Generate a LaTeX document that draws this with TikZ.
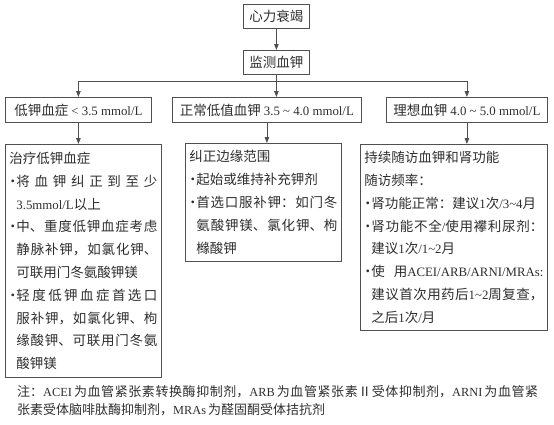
\documentclass[tikz,border=0pt]{standalone}
\usepackage{fontspec}
\setmainfont{Noto Sans CJK SC}
\newfontfamily\lat{Liberation Serif}[Scale=0.95]
\usetikzlibrary{arrows.meta}
\XeTeXlinebreaklocale "zh"
\XeTeXlinebreakskip=0pt plus 2pt
\tolerance=10000
\hbadness=10000
\hyphenpenalty=10000
\setlength\parindent{0pt}
\definecolor{linec}{HTML}{505050}
\definecolor{textc}{HTML}{2E2E2E}
\newcommand\lt[1]{{\lat #1}}
\newcommand\bul{\makebox[7pt][c]{·}}
\newcommand\bp{\par\hangindent=7pt\hangafter=1\bul}
\begin{document}
\begin{tikzpicture}[x=1pt,y=-1pt,
  box/.style={draw=linec, line width=0.8pt, text=textc, inner sep=0pt,
    font=\fontsize{13.5}{22.8}\selectfont},
  head/.style={box, minimum height=25pt, anchor=north west},
  panel/.style={box, anchor=north west, align=justify, inner xsep=4pt, inner ysep=0pt},
  arr/.style={draw=linec, line width=0.8pt, -{Triangle[length=6pt,width=4.5pt]}},
  ln/.style={draw=linec, line width=0.8pt}]
\useasboundingbox (0,0) rectangle (554,424);
\node[head, minimum width=66pt, minimum height=24pt] (hf) at (243,4) {心力衰竭};
\node[head, minimum width=66pt, minimum height=24pt] (mon) at (243,50) {监测血钾};
\node[head, minimum width=146pt] (low) at (5,97) {低钾血症 \lt{< 3.5 mmol/L}};
\node[head, minimum width=189pt] (mid) at (172,97) {正常低值血钾 \lt{3.5 \textasciitilde\ 4.0 mmol/L}};
\node[head, minimum width=161pt] (ide) at (386,97) {理想血钾 \lt{4.0 \textasciitilde\ 5.0 mmol/L}};
\node[panel, text width=148pt, minimum height=233pt] (lp) at (5,144) {治疗低钾血症%
\bp 将血钾纠正到至少\linebreak \lt{3.5mmol/L}以上%
\bp 中、重度低钾血症考虑\linebreak 静脉补钾，如氯化钾、\linebreak 可联用门冬氨酸钾镁%
\bp 轻度低钾血症首选口\linebreak 服补钾，如氯化钾、枸\linebreak 缘酸钾、可联用门冬氨\linebreak 酸钾镁\par};
\node[panel, text width=148pt, minimum height=118pt] (mp) at (185,143) {纠正边缘范围%
\bp 起始或维持补充钾剂%
\bp 首选口服补钾：如门冬\linebreak 氨酸钾镁、氯化钾、枸\linebreak 橼酸钾\par};
\node[panel, text width=179pt, minimum height=186pt] (rp) at (360,144) {持续随访血钾和肾功能\par
随访频率：%
\bp 肾功能正常：建议\lt{1}次\lt{/3\textasciitilde4}月%
\bp 肾功能不全\lt{/}使用襻利尿剂：\linebreak 建议\lt{1}次\lt{/1\textasciitilde2}月%
\bp 使用\mbox{\lt{ACEI/ARB/ARNI/MRAs:}}\linebreak 建议首次用药后\lt{1\textasciitilde2}周复查，\linebreak 之后\lt{1}次\lt{/}月\par};
\node[anchor=north west, inner sep=0pt, text=textc, text width=521pt, align=justify,
  font=\fontsize{13}{18.5}\selectfont] (note) at (17,385) {注：\lt{ACEI\,}为血管紧张素转换酶抑制剂，\lt{ARB\,}为血管紧张素Ⅱ受体抑制剂，\lt{ARNI\,}为血管紧\linebreak 张素受体脑啡肽酶抑制剂，\lt{MRAs\,}为醛固酮受体拮抗剂\par};
\coordinate (jy) at (0,81);
\draw[arr] (hf) -- (mon);
\draw[arr] (mon.south) -- (mon.south |- mid.north);
\draw[ln] (low.north |- jy) -- (ide.north |- jy);
\draw[arr] (low.north |- jy) -- (low.north);
\draw[arr] (ide.north |- jy) -- (ide.north);
\draw[arr] (low.south) -- (low.south |- lp.north);
\draw[arr] (mid.south) -- (mid.south |- mp.north);
\draw[arr] (ide.south) -- (ide.south |- rp.north);
\end{tikzpicture}
\end{document}
